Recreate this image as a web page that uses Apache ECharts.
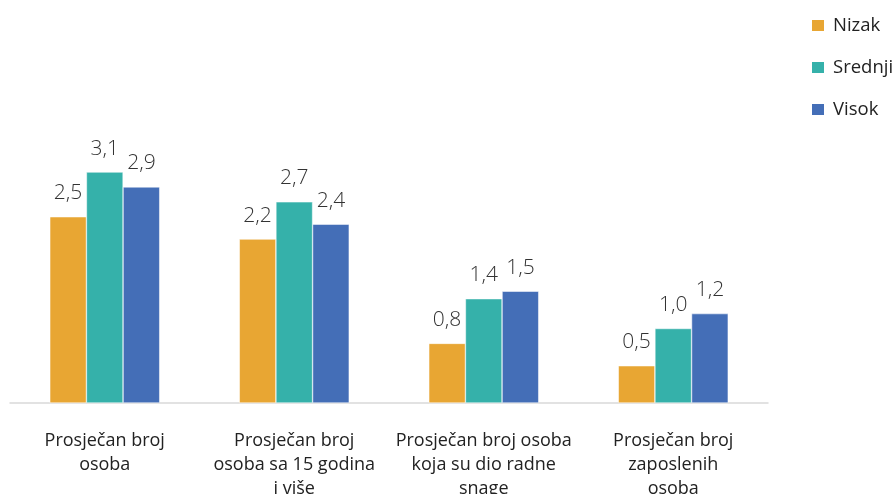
<!DOCTYPE html>
<html><head><meta charset="utf-8">
<script src="https://cdn.jsdelivr.net/npm/echarts@6/dist/echarts.min.js"></script>
<style>html,body{margin:0;padding:0;background:#fff}#c{width:896px;height:494px}</style>
</head><body><div id="c"></div>
<script>
const categories = ["Prosječan broj\nosoba", "Prosječan broj\nosoba sa 15 godina\ni više", "Prosječan broj osoba\nkoja su dio radne\nsnage", "Prosječan broj\nzaposlenih\nosoba"];
const seriesNames = ["Nizak", "Srednji", "Visok"];
const nizak = [2.5, 2.2, 0.8, 0.5];
const srednji = [3.1, 2.7, 1.4, 1.0];
const visok = [2.9, 2.4, 1.5, 1.2];
const colors = ["#E8A633", "#35B1AA", "#446EB7"];
const values = [nizak, srednji, visok];
const font = "Open Sans";
const chart = echarts.init(document.getElementById('c'));
chart.setOption({
  animation: false,
  textStyle: {fontFamily: font},
  legend: {
    orient: 'vertical', left: 805, top: 11,
    itemWidth: 14, itemHeight: 13, itemGap: 23,
    icon: 'rect',
    textStyle: {fontSize: 18.5, color: '#222', fontFamily: font, padding: [0,0,0,3]},
    data: seriesNames
  },
  grid: {left: 10, right: 128, top: 105, bottom: 91, containLabel: false, outerBoundsMode: 'none'},
  xAxis: {
    type: 'category', data: categories,
    axisLine: {lineStyle: {color: '#d9d9d9', width: 1.5}},
    axisTick: {show: false},
    axisLabel: {fontSize: 18, color: '#222', lineHeight: 24, margin: 26, fontFamily: font, interval: 0}
  },
  yAxis: {type: 'value', min: 0, max: 4, show: false, splitLine: {show: false}},
  series: seriesNames.map((n, i) => ({
    name: n, type: 'bar', data: values[i],
    barGap: '0%', barCategoryGap: '42%',
    itemStyle: {color: colors[i], borderColor: '#fff', borderWidth: 0.5},
    label: {show: true, position: 'top', distance: 13, fontSize: 21, color: '#333', fontFamily: font, fontWeight: 300,
      formatter: p => p.value.toFixed(1).replace('.', ',')}
  }))
});
</script></body></html>
